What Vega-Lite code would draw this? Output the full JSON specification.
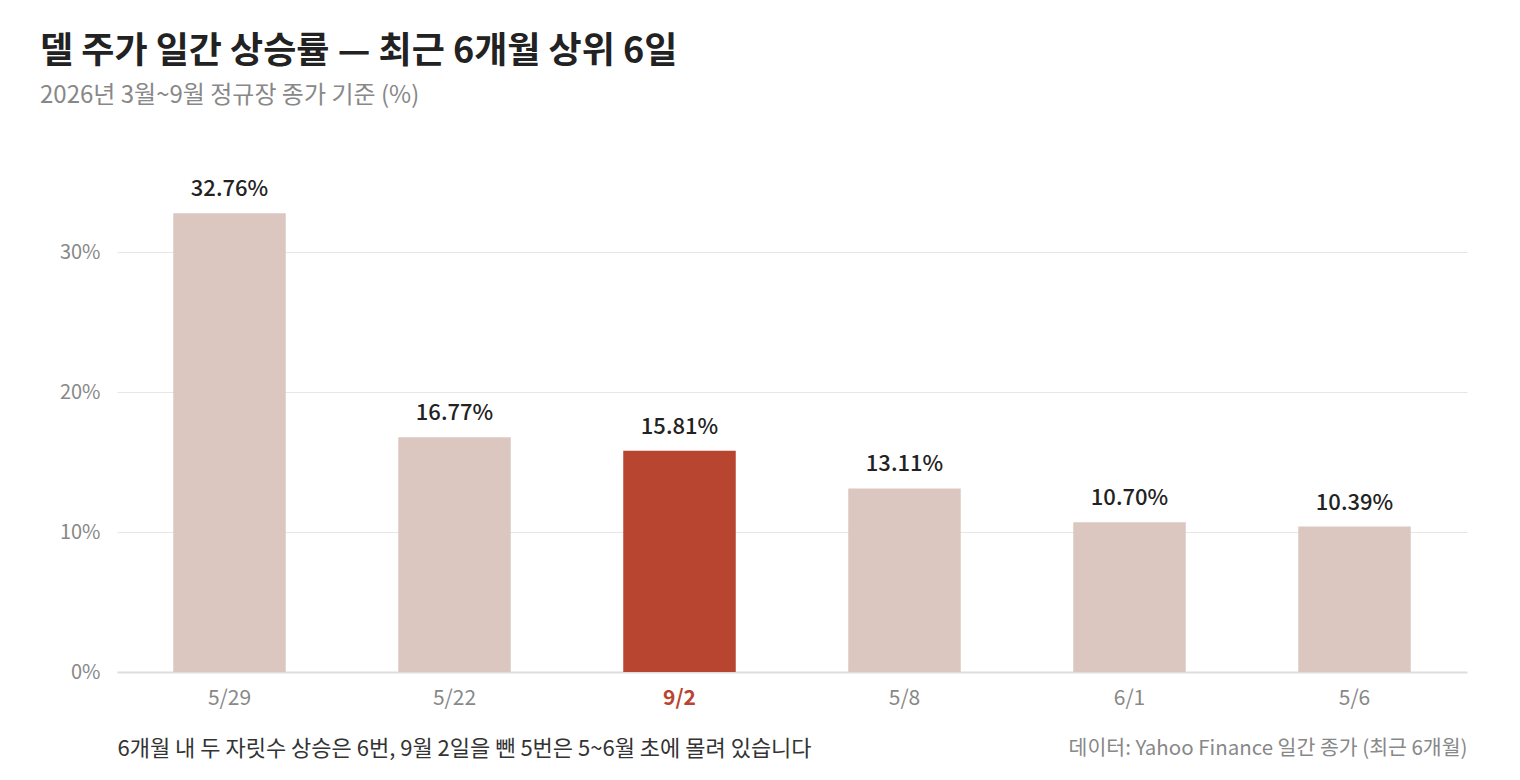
{
  "$schema": "https://vega.github.io/schema/vega-lite/v6.json",
  "autosize": {"type": "none"},
  "width": 1350,
  "height": 490,
  "padding": {"left": 117, "top": 182, "right": 53, "bottom": 108},
  "background": "white",
  "config": {
    "font": "Noto Sans CJK KR",
    "view": {"stroke": null}
  },
  "title": {
    "text": "델 주가 일간 상승률 — 최근 6개월 상위 6일",
    "subtitle": "2026년 3월~9월 정규장 종가 기준 (%)",
    "anchor": "start",
    "frame": "group",
    "dx": -77,
    "offset": 69,
    "fontSize": 36,
    "fontWeight": "bold",
    "color": "#222222",
    "subtitleFontSize": 24,
    "subtitleColor": "#888888",
    "subtitlePadding": 13,
    "font": "Noto Sans CJK KR",
    "subtitleFont": "Noto Sans CJK KR"
  },
  "data": {
    "values": [
      {"date": "5/29", "pct": 32.76, "label": "32.76%", "group": "기타"},
      {"date": "5/22", "pct": 16.77, "label": "16.77%", "group": "기타"},
      {"date": "9/2", "pct": 15.81, "label": "15.81%", "group": "강조"},
      {"date": "5/8", "pct": 13.11, "label": "13.11%", "group": "기타"},
      {"date": "6/1", "pct": 10.70, "label": "10.70%", "group": "기타"},
      {"date": "5/6", "pct": 10.39, "label": "10.39%", "group": "기타"}
    ]
  },
  "encoding": {
    "x": {
      "field": "date",
      "type": "nominal",
      "sort": null,
      "scale": {"paddingInner": 0.5, "paddingOuter": 0.25},
      "axis": {
        "title": "6개월 내 두 자릿수 상승은 6번, 9월 2일을 뺀 5번은 5~6월 초에 몰려 있습니다",
        "titleX": 0,
        "titleY": 76,
        "titleAlign": "left",
        "titleAnchor": "start",
        "titleBaseline": "middle",
        "titleFontSize": 22,
        "titleFontWeight": "normal",
        "titleColor": "#333333",
        "labelAngle": 0,
        "labelFontSize": 21,
        "labelPadding": 15,
        "labelColor": {"condition": {"test": "datum.value === '9/2'", "value": "#b8452f"}, "value": "#888888"},
        "labelFontWeight": {"condition": {"test": "datum.value === '9/2'", "value": "bold"}, "value": "normal"},
        "ticks": false,
        "domain": false
      }
    },
    "y": {
      "field": "pct",
      "type": "quantitative",
      "scale": {"domain": [0, 35], "nice": false},
      "axis": {
        "values": [0, 10, 20, 30],
        "labelExpr": "datum.value + '%'",
        "labelFontSize": 20,
        "labelColor": "#888888",
        "labelPadding": 17,
        "ticks": false,
        "domain": false,
        "gridColor": {"condition": {"test": "datum.value === 0", "value": "#dddddd"}, "value": "#e6e6e6"},
        "gridWidth": {"condition": {"test": "datum.value === 0", "value": 2}, "value": 1},
        "title": "데이터: Yahoo Finance 일간 종가 (최근 6개월)",
        "titleAngle": 0,
        "titleX": 1350,
        "titleY": 566,
        "titleAlign": "right",
        "titleBaseline": "middle",
        "titleFontSize": 20.5,
        "titleFontWeight": "normal",
        "titleColor": "#888888"
      }
    }
  },
  "layer": [
    {
      "mark": {"type": "bar"},
      "encoding": {
        "color": {
          "field": "group",
          "type": "nominal",
          "scale": {"domain": ["강조", "기타"], "range": ["#b8452f", "#dcc7c0"]},
          "legend": null
        }
      }
    },
    {
      "mark": {"type": "text", "baseline": "bottom", "dy": -12, "fontSize": 22, "fontWeight": 500, "color": "#222222"},
      "encoding": {
        "text": {"field": "label", "type": "nominal"}
      }
    }
  ]
}
